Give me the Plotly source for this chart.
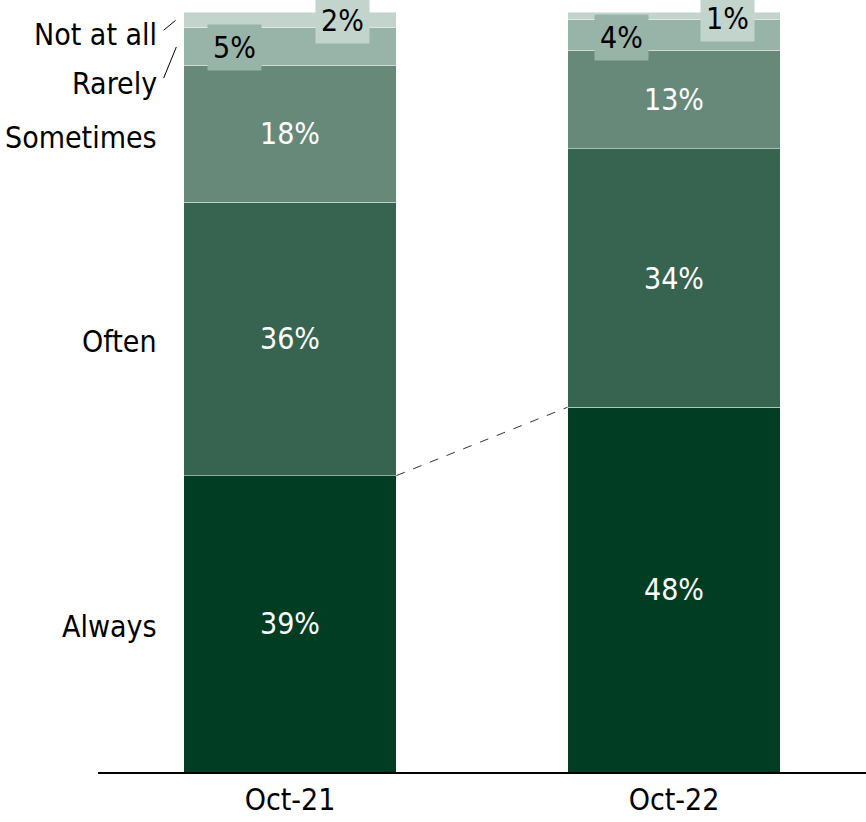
import plotly.graph_objects as go

periods = ["Oct-21", "Oct-22"]
responses = ["Always", "Often", "Sometimes", "Rarely", "Not at all"]
always = [39, 48]
often = [36, 34]
sometimes = [18, 13]
rarely = [5, 4]
not_at_all = [2, 1]
colors = ["#003D22", "#366451", "#668979", "#98B3A7", "#C3D4CD"]

series = [always, often, sometimes, rarely, not_at_all]
FONT = "DejaVu Sans Condensed, DejaVu Sans, sans-serif"
FS = 30
W = 0.554
xs = [0, 1]

fig = go.Figure()
for name, vals, col, i in zip(responses, series, colors, range(5)):
    show_text = i < 3
    fig.add_trace(go.Bar(
        x=xs, y=vals, name=name, width=W,
        marker=dict(color=col, line=dict(color="rgba(255,255,255,0.45)", width=1)),
        text=[f"{v}%" for v in vals] if show_text else None,
        textposition="inside" if show_text else "none",
        insidetextanchor="middle",
        textfont=dict(family=FONT, size=FS, color="white"),
        hoverinfo="skip",
    ))

# dashed connector between tops of 'Always'
fig.add_trace(go.Scatter(
    x=[xs[0] + W / 2, xs[1] - W / 2], y=[always[0], always[1]],
    mode="lines", line=dict(color="#333333", width=1, dash="dash"),
    hoverinfo="skip", showlegend=False))

ann = []
lab_x = -0.34
label_y = {
    "Always": always[0] / 2 - 0.4,
    "Often": always[0] + often[0] / 2 - 0.4,
    "Sometimes": always[0] + often[0] + sometimes[0] / 2 - 0.5,
    "Rarely": 90.6,
    "Not at all": 97.0,
}
for r in responses:
    ann.append(dict(x=lab_x, y=label_y[r], xref="x", yref="y", text=r,
                    showarrow=False, xanchor="right", yanchor="middle",
                    font=dict(family=FONT, size=FS, color="black")))

small = [
    (0.137, 98.9, not_at_all[0], colors[4]),
    (-0.145, 95.3, rarely[0], colors[3]),
    (0.862, 96.6, rarely[1], colors[3]),
    (1.140, 99.2, not_at_all[1], colors[4]),
]
for x, y, v, c in small:
    ann.append(dict(x=x, y=y, xref="x", yref="y", text=f"{v}%", showarrow=False,
                    xanchor="center", yanchor="middle", bgcolor=c, borderpad=5,
                    font=dict(family=FONT, size=FS, color="black")))

shapes = [
    dict(type="line", xref="x", yref="y", x0=-0.329, y0=97.6, x1=-0.298, y1=98.9,
         line=dict(color="black", width=1)),
    dict(type="line", xref="x", yref="y", x0=-0.329, y0=91.3, x1=-0.296, y1=95.4,
         line=dict(color="black", width=1)),
]

fig.update_layout(
    barmode="stack",
    width=866, height=822,
    margin=dict(l=98, r=0, t=12, b=50),
    paper_bgcolor="white", plot_bgcolor="white",
    showlegend=False,
    annotations=ann, shapes=shapes,
    xaxis=dict(range=[-0.5, 1.5], tickvals=xs, ticktext=periods,
               showline=True, linecolor="black", linewidth=2, ticks="",
               showgrid=False, zeroline=False,
               tickfont=dict(family=FONT, size=FS, color="black")),
    yaxis=dict(range=[0, 100], visible=False, showgrid=False, zeroline=False),
    uniformtext=dict(mode=False),
)

fig.write_html("out.html")
